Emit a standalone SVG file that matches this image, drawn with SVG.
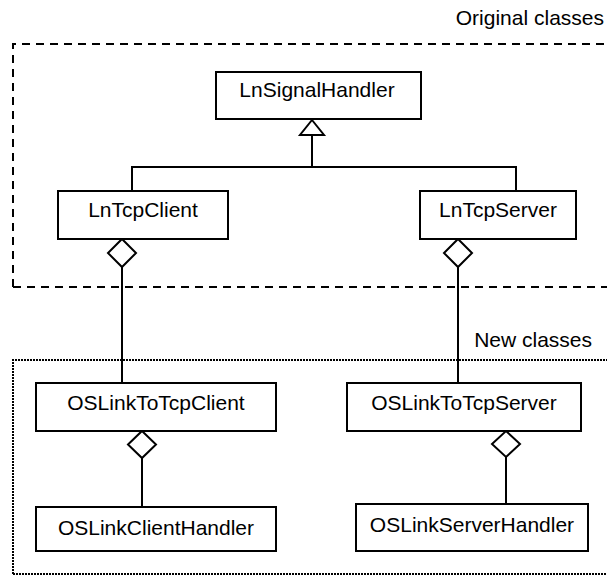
<svg xmlns="http://www.w3.org/2000/svg" width="607" height="575" viewBox="0 0 607 575">
<style>
.box{fill:#fff;stroke:#000;stroke-width:2}
.lbl{font-family:"Liberation Sans",Arial,sans-serif;font-size:21px;fill:#000;text-anchor:middle}
.cap{font-family:"Liberation Sans",Arial,sans-serif;font-size:21px;fill:#000}
.ln{fill:none;stroke:#000;stroke-width:2}
.dia{fill:#fff;stroke:#000;stroke-width:2;stroke-linejoin:miter}
</style>
<rect width="607" height="575" fill="#fff"/>
<g id="group-original">
<path d="M13 287 V44 H620" fill="none" stroke="#000" stroke-width="2" stroke-dasharray="8 6"/>
<path d="M13 287 H620" fill="none" stroke="#000" stroke-width="2" stroke-dasharray="8 6"/>
<text class="cap" x="604" y="25" text-anchor="end">Original classes</text>
</g>
<g id="group-new">
<path d="M13 574 V360 H620" fill="none" stroke="#000" stroke-width="2" stroke-dasharray="2 1"/>
<path d="M13 574 H620" fill="none" stroke="#000" stroke-width="2" stroke-dasharray="2 1"/>
<text class="cap" x="592" y="347" text-anchor="end">New classes</text>
</g>
<g id="connectors">
<path class="ln" d="M312 135 V167 M132 191 V167 H516 V191"/>
<polygon class="dia" points="312,120 324,135 300,135"/>
<path class="ln" d="M122 267 V383"/>
<polygon class="dia" points="122,239 136,253 122,267 108,253"/>
<path class="ln" d="M458 267 V383"/>
<polygon class="dia" points="458,239 472,253 458,267 444,253"/>
<path class="ln" d="M142 458 V507"/>
<polygon class="dia" points="142,431 156,444.5 142,458 128,444.5"/>
<path class="ln" d="M506 457 V504"/>
<polygon class="dia" points="506,431 520,444 506,457 492,444"/>
</g>
<g id="LnSignalHandler">
<rect class="box" x="216" y="72" width="205" height="47"/>
<text class="lbl" x="317" y="97">LnSignalHandler</text>
</g>
<g id="LnTcpClient">
<rect class="box" x="58" y="191" width="170" height="48"/>
<text class="lbl" x="143" y="217">LnTcpClient</text>
</g>
<g id="LnTcpServer">
<rect class="box" x="420" y="191" width="156" height="48"/>
<text class="lbl" x="498" y="217">LnTcpServer</text>
</g>
<g id="OSLinkToTcpClient">
<rect class="box" x="36" y="383" width="240" height="48"/>
<text class="lbl" x="156" y="410">OSLinkToTcpClient</text>
</g>
<g id="OSLinkToTcpServer">
<rect class="box" x="347" y="383" width="234" height="48"/>
<text class="lbl" x="464" y="410">OSLinkToTcpServer</text>
</g>
<g id="OSLinkClientHandler">
<rect class="box" x="36" y="507" width="240" height="44"/>
<text class="lbl" x="156" y="535">OSLinkClientHandler</text>
</g>
<g id="OSLinkServerHandler">
<rect class="box" x="356" y="504" width="232" height="47"/>
<text class="lbl" x="472" y="532">OSLinkServerHandler</text>
</g>
</svg>
